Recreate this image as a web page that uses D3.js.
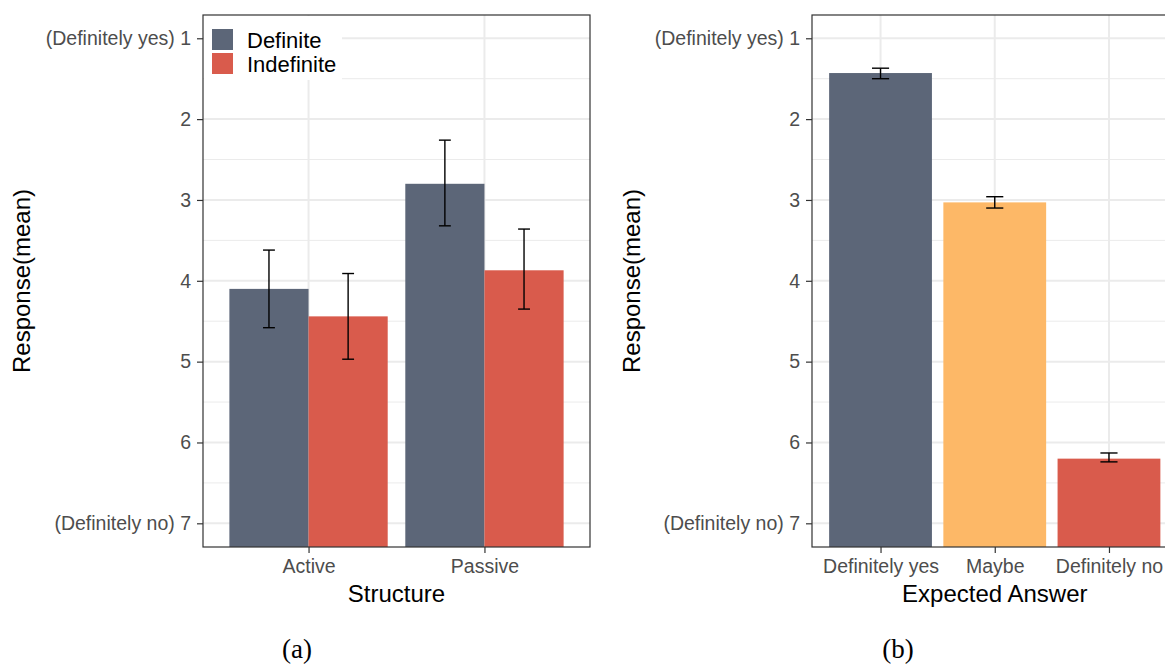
<!DOCTYPE html>
<html>
<head>
<meta charset="utf-8">
<script src="https://cdn.jsdelivr.net/npm/d3@7"></script>
<style>
  body { margin: 0; background: #fff; }
  svg { display: block; }
  text { font-family: "Liberation Sans", Arial, Helvetica, sans-serif; }
</style>
</head>
<body>
<svg width="1165" height="664"></svg>
<script>
// panel (a) data
var structures = ["Active", "Passive"];
var articles = ["Definite", "Indefinite"];
var definiteMean = [4.10, 2.80];
var definiteLow = [3.62, 2.26];
var definiteHigh = [4.58, 3.32];
var indefiniteMean = [4.44, 3.87];
var indefiniteLow = [3.91, 3.36];
var indefiniteHigh = [4.97, 4.35];

// panel (b) data
var answers = ["Definitely yes", "Maybe", "Definitely no"];
var answerMean = [1.43, 3.03, 6.20];
var answerLow = [1.37, 2.96, 6.13];
var answerHigh = [1.50, 3.10, 6.24];

var yTicks = [1, 2, 3, 4, 5, 6, 7];
var yTickLabels = ["(Definitely yes) 1", "2", "3", "4", "5", "6", "(Definitely no) 7"];
var yMinor = [1.5, 2.5, 3.5, 4.5, 5.5, 6.5];

var articleColor = {"Definite": "#5c6678", "Indefinite": "#d95b4c"};
var answerColor = ["#5c6678", "#fdb867", "#d95b4c"];

var svg = d3.select("svg");
var plotTop = 15, plotBottom = 547;

var y = d3.scaleLinear().domain([0.712, 7.293]).range([plotTop, plotBottom]);

// Draws grid, axes and titles. Returns the x point scale and a group for marks.
function panel(left, right, cats, xTitle, yTitleX) {
  var g = svg.append("g");
  var x = d3.scalePoint().domain(cats).range([left, right]).padding(0.6);

  g.selectAll(".minor").data(yMinor).enter().append("line")
    .attr("x1", left).attr("x2", right)
    .attr("y1", function(d) { return y(d); }).attr("y2", function(d) { return y(d); })
    .attr("stroke", "#ebebeb").attr("stroke-width", 1);
  g.selectAll(".major").data(yTicks).enter().append("line")
    .attr("x1", left).attr("x2", right)
    .attr("y1", function(d) { return y(d); }).attr("y2", function(d) { return y(d); })
    .attr("stroke", "#ebebeb").attr("stroke-width", 2);
  g.selectAll(".vmajor").data(cats).enter().append("line")
    .attr("y1", plotTop).attr("y2", plotBottom)
    .attr("x1", function(d) { return x(d); }).attr("x2", function(d) { return x(d); })
    .attr("stroke", "#ebebeb").attr("stroke-width", 2);

  var yAxis = d3.axisLeft(y).tickValues(yTicks).tickSize(6).tickPadding(6)
    .tickFormat(function(d, i) { return yTickLabels[i]; });
  var ya = svg.append("g").attr("class", "axis").attr("transform", "translate(" + left + ",0)").call(yAxis);
  ya.select(".domain").remove();

  var xAxis = d3.axisBottom(x).tickSize(6).tickPadding(6);
  var xa = svg.append("g").attr("class", "axis").attr("transform", "translate(0," + plotBottom + ")").call(xAxis);
  xa.select(".domain").remove();

  svg.selectAll(".axis text").attr("fill", "#4d4d4d").style("font-size", "19.5px");
  svg.selectAll(".axis line").attr("stroke", "#333").attr("stroke-width", 1.2);

  svg.append("text")
    .attr("x", (left + right) / 2).attr("y", 602)
    .attr("text-anchor", "middle").style("font-size", "24px")
    .text(xTitle);

  svg.append("text")
    .attr("transform", "translate(" + yTitleX + "," + ((plotTop + plotBottom) / 2) + ") rotate(-90)")
    .attr("text-anchor", "middle").style("font-size", "24px")
    .text("Response(mean)");

  return {g: g, x: x, left: left, right: right};
}

function errorBar(g, cx, halfW, lo, hi) {
  var e = g.append("g").attr("stroke", "#000").attr("stroke-width", 1.4).attr("fill", "none");
  e.append("line").attr("x1", cx).attr("x2", cx).attr("y1", y(lo)).attr("y2", y(hi));
  e.append("line").attr("x1", cx - halfW).attr("x2", cx + halfW).attr("y1", y(lo)).attr("y2", y(lo));
  e.append("line").attr("x1", cx - halfW).attr("x2", cx + halfW).attr("y1", y(hi)).attr("y2", y(hi));
}

function border(p) {
  svg.append("rect")
    .attr("x", p.left).attr("y", plotTop)
    .attr("width", p.right - p.left).attr("height", plotBottom - plotTop)
    .attr("fill", "none").attr("stroke", "#333").attr("stroke-width", 1.2);
}

// ---- panel (a)
var pa = panel(203, 590, structures, "Structure", 30);
var stepA = pa.x.step();
var dodge = d3.scaleBand().domain(articles).range([-0.45 * stepA, 0.45 * stepA]);
var seriesA = [
  {name: "Definite", mean: definiteMean, lo: definiteLow, hi: definiteHigh},
  {name: "Indefinite", mean: indefiniteMean, lo: indefiniteLow, hi: indefiniteHigh}
];
seriesA.forEach(function(s) {
  pa.g.selectAll(null).data(structures).enter().append("rect")
    .attr("x", function(d) { return pa.x(d) + dodge(s.name); })
    .attr("width", dodge.bandwidth())
    .attr("y", function(d, i) { return y(s.mean[i]); })
    .attr("height", function(d, i) { return y.range()[1] - y(s.mean[i]); })
    .attr("fill", articleColor[s.name]);
});
seriesA.forEach(function(s) {
  structures.forEach(function(d, i) {
    var cx = pa.x(d) + dodge(s.name) + dodge.bandwidth() / 2;
    errorBar(pa.g, cx, 0.075 * dodge.bandwidth(), s.lo[i], s.hi[i]);
  });
});

// legend inside panel (a)
var legend = pa.g.append("g");
legend.append("rect").attr("x", 204).attr("y", 16).attr("width", 138).attr("height", 64).attr("fill", "#fff");
articles.forEach(function(a, i) {
  legend.append("rect").attr("x", 212).attr("y", 29 + i * 24).attr("width", 21).attr("height", 21)
    .attr("fill", articleColor[a]);
  legend.append("text").attr("x", 247).attr("y", 48 + i * 24)
    .style("font-size", "22px").attr("fill", "#000").text(a);
});
border(pa);

// ---- panel (b)
var pb = panel(812, 1177.5, answers, "Expected Answer", 640);
var stepB = pb.x.step();
pb.g.selectAll(null).data(answers).enter().append("rect")
  .attr("x", function(d) { return pb.x(d) - 0.45 * stepB; })
  .attr("width", 0.9 * stepB)
  .attr("y", function(d, i) { return y(answerMean[i]); })
  .attr("height", function(d, i) { return y.range()[1] - y(answerMean[i]); })
  .attr("fill", function(d, i) { return answerColor[i]; });
answers.forEach(function(d, i) {
  errorBar(pb.g, pb.x(d), 0.075 * stepB, answerLow[i], answerHigh[i]);
});
border(pb);

// captions
svg.append("text").attr("x", 297).attr("y", 658).attr("text-anchor", "middle")
  .style("font-family", "'Liberation Serif', 'Times New Roman', serif").style("font-size", "27px").text("(a)");
svg.append("text").attr("x", 898).attr("y", 658).attr("text-anchor", "middle")
  .style("font-family", "'Liberation Serif', 'Times New Roman', serif").style("font-size", "27px").text("(b)");
</script>
</body>
</html>
